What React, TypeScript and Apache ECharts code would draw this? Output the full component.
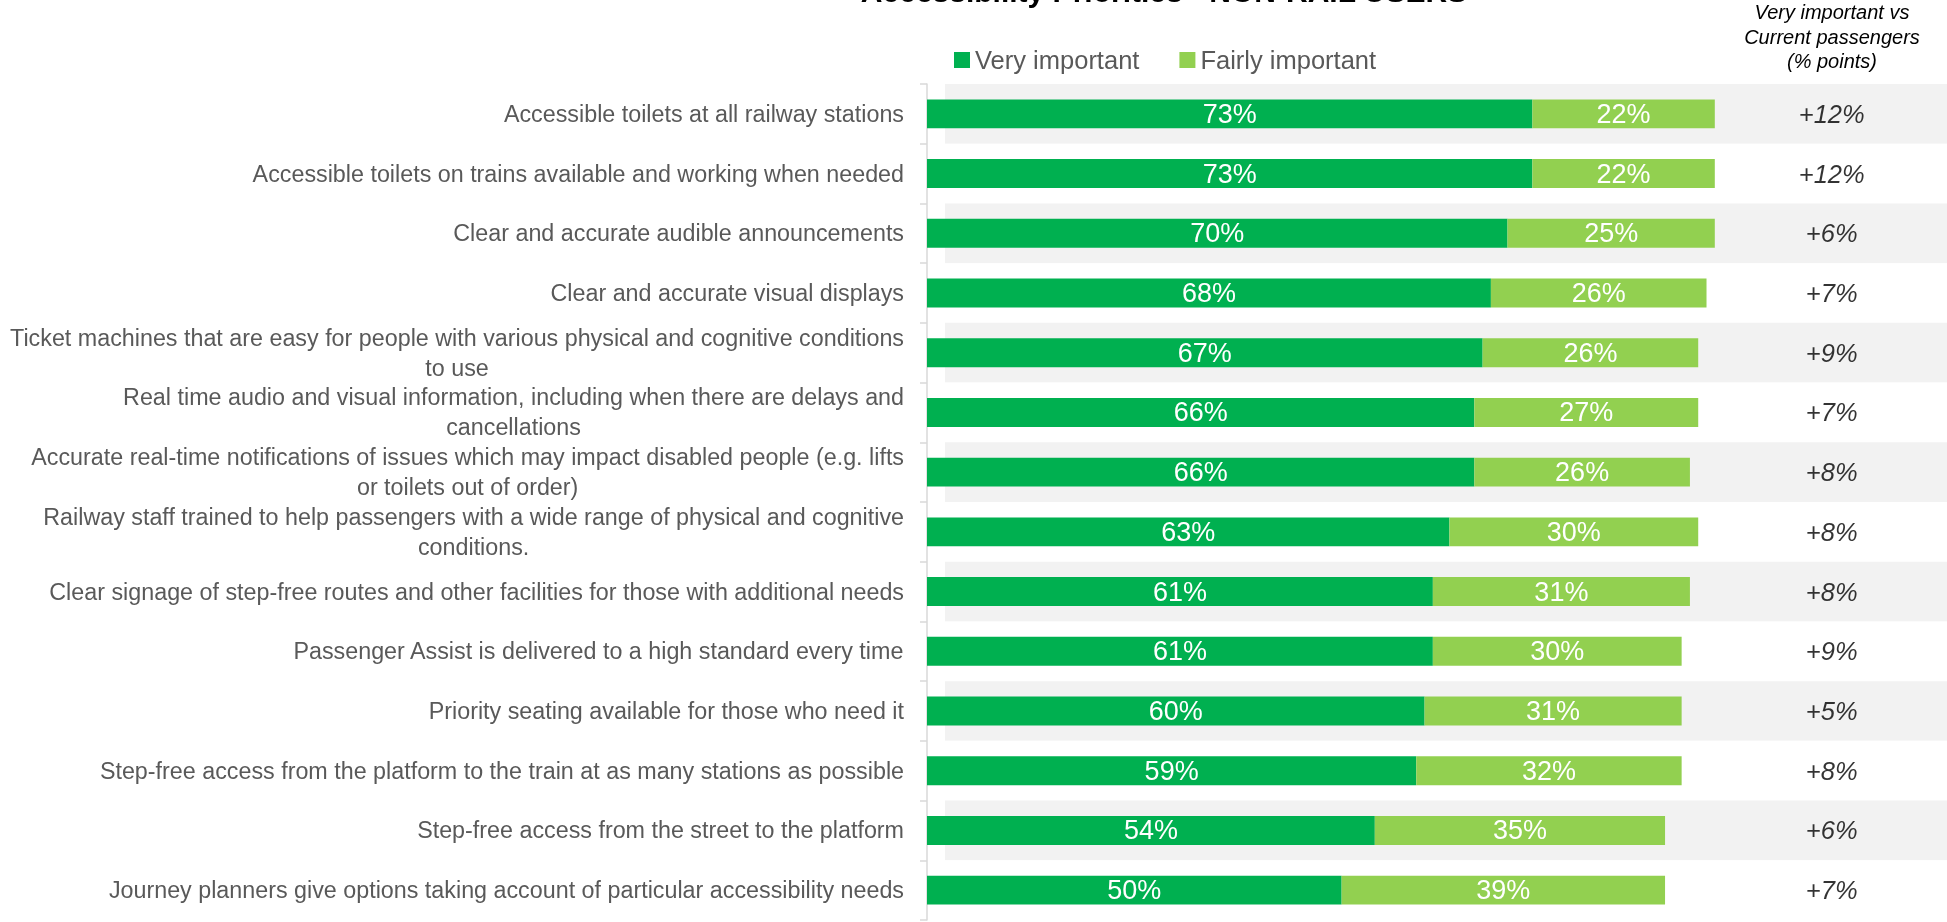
import React, { useEffect, useRef } from "react";
import * as echarts from "echarts";

const TITLE = "Accessibility Priorities - NON-RAIL USERS";
const CATEGORIES = [
  "Accessible toilets at all railway stations",
  "Accessible toilets on trains available and working when needed",
  "Clear and accurate audible announcements",
  "Clear and accurate visual displays",
  "Ticket machines that are easy for people with various physical and cognitive conditions\nto use",
  "Real time audio and visual information, including when there are delays and\ncancellations",
  "Accurate real-time notifications of issues which may impact disabled people (e.g. lifts\nor toilets out of order)",
  "Railway staff trained to help passengers with a wide range of physical and cognitive\nconditions.",
  "Clear signage of step-free routes and other facilities for those with additional needs",
  "Passenger Assist is delivered to a high standard every time",
  "Priority seating available for those who need it",
  "Step-free access from the platform to the train at as many stations as possible",
  "Step-free access from the street to the platform",
  "Journey planners give options taking account of particular accessibility needs",
];
const VERY_IMPORTANT = [73, 73, 70, 68, 67, 66, 66, 63, 61, 61, 60, 59, 54, 50];
const FAIRLY_IMPORTANT = [22, 22, 25, 26, 26, 27, 26, 30, 31, 30, 31, 32, 35, 39];
const DIFF_VS_CURRENT = [12, 12, 6, 7, 9, 7, 8, 8, 8, 9, 5, 8, 6, 7];
const DIFF_HEADER = "Very important vs\nCurrent passengers\n(% points)";

const FONT = "'Liberation Sans', Arial, sans-serif";
const DIFF_COLUMN_X = 109.1;

export default function App() {
  const ref = useRef<HTMLDivElement>(null);
  useEffect(() => {
    if (!ref.current) return;
    const chart = echarts.init(ref.current, null, { renderer: "svg" });
    const grid = { top: 84, bottom: 2, containLabel: false, outerBoundsMode: "none" };
    chart.setOption({
      animation: false,
      textStyle: { fontFamily: FONT },
      grid: [
        { left: 927, right: 0, ...grid },
        { left: 945, right: 0, ...grid },
      ],
      legend: {
        data: ["Very important", "Fairly important"],
        left: 949,
        top: 42,
        icon: "rect",
        itemWidth: 16,
        itemHeight: 16,
        itemGap: 40,
        textStyle: { color: "#595959", fontSize: 25.5, fontFamily: FONT },
      },
      xAxis: [
        { type: "value", gridIndex: 0, min: 0, max: 123, show: false },
        { type: "value", gridIndex: 1, min: 0, max: 1, show: false },
      ],
      yAxis: [
        {
          type: "category",
          gridIndex: 0,
          inverse: true,
          data: CATEGORIES,
          axisLine: { show: true, lineStyle: { color: "#D9D9D9", width: 1.5 } },
          axisTick: { show: true, length: 7, lineStyle: { color: "#D9D9D9", width: 1.5 } },
          splitLine: { show: false },
          axisLabel: {
            margin: 23,
            formatter: (v: string) =>
              v
                .split("\n")
                .map((l) => `{c|${l}}`)
                .join("\n"),
            rich: {
              c: {
                align: "center",
                fontSize: 23.3,
                lineHeight: 30,
                color: "#595959",
                fontFamily: FONT,
              },
            },
          },
        },
        {
          type: "category",
          gridIndex: 1,
          inverse: true,
          data: CATEGORIES,
          axisLine: { show: false },
          axisTick: { show: false },
          axisLabel: { show: false },
          splitLine: { show: false },
          splitArea: { show: true, areaStyle: { color: ["#F2F2F2", "#FFFFFF"] } },
        },
      ],
      series: [
        {
          name: "Very important",
          type: "bar",
          stack: "total",
          barWidth: "48.5%",
          data: VERY_IMPORTANT,
          itemStyle: { color: "#00B050" },
          label: {
            show: true,
            position: "inside",
            formatter: "{c}%",
            color: "#FFFFFF",
            fontSize: 27,
            fontFamily: FONT,
          },
        },
        {
          name: "Fairly important",
          type: "bar",
          stack: "total",
          barWidth: "48.5%",
          data: FAIRLY_IMPORTANT,
          itemStyle: { color: "#92D050" },
          label: {
            show: true,
            position: "inside",
            formatter: "{c}%",
            color: "#FFFFFF",
            fontSize: 27,
            fontFamily: FONT,
          },
        },
        {
          name: "diff",
          type: "scatter",
          symbolSize: 1,
          itemStyle: { color: "rgba(0,0,0,0)" },
          data: DIFF_VS_CURRENT.map((d, i) => [DIFF_COLUMN_X, i]),
          label: {
            show: true,
            position: "inside",
            formatter: (p: any) => `+${DIFF_VS_CURRENT[p.dataIndex]}%`,
            color: "#000000",
            fontSize: 25.5,
            fontStyle: "italic",
            fontFamily: FONT,
          },
          silent: true,
        },
      ],
      graphic: [
        {
          type: "text",
          x: 1164,
          y: -9,
          style: {
            text: TITLE,
            fill: "#000000",
            fontSize: 30,
            fontWeight: "bold",
            fontFamily: FONT,
            textAlign: "center",
            textVerticalAlign: "middle",
          },
        },
        {
          type: "text",
          x: 1832,
          y: 0,
          style: {
            text: DIFF_HEADER,
            fill: "#000000",
            fontSize: 20,
            fontStyle: "italic",
            lineHeight: 24.5,
            fontFamily: FONT,
            textAlign: "center",
            textVerticalAlign: "top",
          },
        },
      ],
    });
    return () => chart.dispose();
  }, []);
  return (
    <div
      ref={ref}
      style={{ position: "fixed", left: 0, top: 0, width: 1947, height: 922 }}
    />
  );
}
